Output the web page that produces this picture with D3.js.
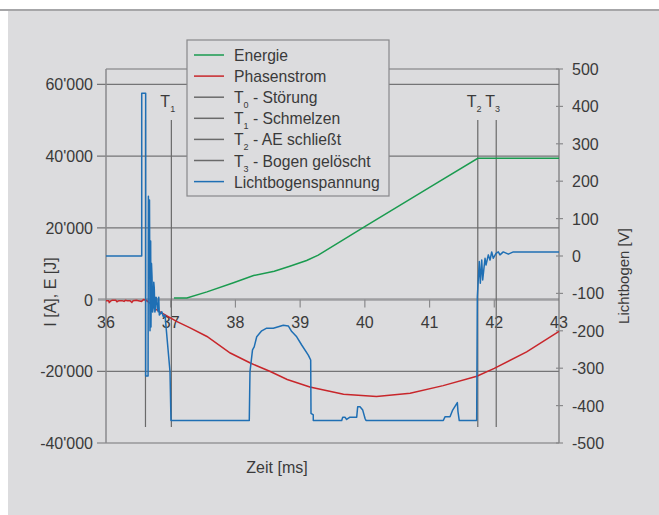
<!DOCTYPE html>
<html>
<head>
<meta charset="utf-8">
<script src="https://cdn.jsdelivr.net/npm/d3@7"></script>
<style>
  body { margin: 0; background: #fff; }
  svg { display: block; font-family: "Liberation Sans", Arial, sans-serif; }
  text { fill: #3a3a3a; }
</style>
</head>
<body>
<script>
// Zeit [ms] ticks, left / right axis ticks
let timeTicks = [36, 37, 38, 39, 40, 41, 42, 43]
let leftTicks = [-40000, -20000, 0, 20000, 40000, 60000]
let rightTicks = [-500, -400, -300, -200, -100, 0, 100, 200, 300, 400, 500]

// Energie [J] over time
let energyT = [37.05, 37.25, 37.56, 37.97, 38.28, 38.6, 38.84, 39.1, 39.28, 40.03, 41.0, 41.745, 43]
let energyV = [450, 450, 2150, 4700, 6700, 7900, 9300, 10900, 12400, 20700, 31300, 39400, 39400]

// Phasenstrom [A]
let currentT = [36.0, 36.04, 36.05, 36.08, 36.1, 36.15, 36.17, 36.2, 36.25, 36.28, 36.3, 36.33, 36.37, 36.4, 36.42, 36.47, 36.5, 36.55, 36.58, 36.62, 36.68,
  36.75, 36.86, 37.09, 37.3, 37.56, 37.92, 38.23, 38.53, 38.8, 39.15, 39.67, 40.18, 40.7, 41.21, 41.73, 42.0, 42.5, 43.0]
let currentV = [-300, -300, -800, -300, -200, -200, -600, -300, -300, -500, -200, -300, -300, -800, -300, -200, -300, -500, 0, -200, -1000,
  -2500, -3700, -6100, -7900, -10300, -14900, -17700, -20000, -22300, -24400, -26400, -27000, -26100, -24000, -21400, -19200, -14600, -8900]

// Lichtbogenspannung [V]
let arcT = [36.0, 36.552, 36.552, 36.613, 36.613, 36.65, 36.655, 36.665, 36.672, 36.68, 36.69, 36.695, 36.703, 36.711, 36.72, 36.731, 36.738,
  36.746, 36.755, 36.762, 36.772, 36.783, 36.795, 36.808, 36.815, 36.824, 36.861, 36.885, 36.912, 36.989, 37.004,
  38.214, 38.225, 38.264, 38.29, 38.329, 38.406, 38.483, 38.585, 38.663, 38.74, 38.817, 38.87, 38.947, 39.024, 39.126, 39.163,
  39.168, 39.203, 39.203, 39.642, 39.658, 39.693, 39.719, 39.77, 39.874, 39.889, 39.925, 39.967, 40.002, 40.018,
  41.212, 41.238, 41.316, 41.357, 41.429, 41.439, 41.459, 41.728, 41.738, 41.768, 41.784, 41.806, 41.821, 41.857, 41.872,
  41.908, 41.934, 41.96, 41.985, 42.027, 42.062, 42.088, 42.139, 42.217, 42.294, 43.0]
let arcV = [0, 0, 435, 435, -321, -321, 160, -60, 150, -200, 40, -190, -20, -55, -150, -136, -70,
  -86, -150, -144, -110, -113, -140, -149, -110, -158, -149, -162, -158, -309, -440,
  -440, -309, -251, -243, -216, -200, -193, -193, -189, -185, -187, -202, -216, -238, -265, -278,
  -421, -425, -440, -440, -431, -431, -437, -431, -431, -403, -403, -412, -434, -440,
  -440, -430, -430, -412, -392, -416, -440, -440, -109, -15, -73, -11, -64, -6, -24,
  3, -11, 11, -6, 7, 11, 3, 11, 5, 11, 11]

// event markers
let markerNames = ['0', '1', '2', '3']
let markerT = [36.61, 37.01, 41.745, 42.03]
let markerLabel = [false, true, true, true]

let legendItems = [
  {l: 'Energie', c: '#1a9b4f'},
  {l: 'Phasenstrom', c: '#c8262b'},
  {l: 'T', s: '0', r: ' - Störung', c: '#6a6a6a'},
  {l: 'T', s: '1', r: ' - Schmelzen', c: '#6a6a6a'},
  {l: 'T', s: '2', r: ' - AE schließt', c: '#6a6a6a'},
  {l: 'T', s: '3', r: ' - Bogen gelöscht', c: '#6a6a6a'},
  {l: 'Lichtbogenspannung', c: '#1f6fb4'}
]

let W = 659, H = 515
let pL = 106, pR = 559, pT = 69, pB = 443

let x = d3.scaleLinear().domain([36, 43]).range([pL, pR])
let yL = d3.scaleLinear().domain([-40000, 64300]).range([pB, pT])
let yR = d3.scaleLinear().domain([-500, 500]).range([pB, pT])

let fmt = function (v) {
  let s = Math.abs(v).toString().replace(/\B(?=(\d{3})+(?!\d))/g, "'")
  return (v < 0 ? '-' : '') + s
}

let svg = d3.select('body').append('svg').attr('width', W).attr('height', H)

svg.append('rect').attr('width', W).attr('height', H).attr('fill', '#fff')
svg.append('rect').attr('x', 0).attr('y', 9).attr('width', W).attr('height', 2).attr('fill', '#a6a6a8')
svg.append('rect').attr('x', 8).attr('y', 11).attr('width', W - 8).attr('height', H - 11).attr('fill', '#dcdcde')

// horizontal grid from left ticks
svg.append('g').selectAll('line').data(leftTicks.filter(function (d) { return d != 0 })).enter().append('line')
  .attr('x1', 97).attr('x2', pR)
  .attr('y1', function (d) { return yL(d) }).attr('y2', function (d) { return yL(d) })
  .attr('stroke', '#747476').attr('stroke-width', 1.2)

svg.append('line').attr('x1', 98).attr('x2', pR).attr('y1', yL(0)).attr('y2', yL(0))
  .attr('stroke', '#9e9ea0').attr('stroke-width', 2.5)

// frame
svg.append('line').attr('x1', pL).attr('x2', pR).attr('y1', pT).attr('y2', pT).attr('stroke', '#747476').attr('stroke-width', 1.2)
svg.append('line').attr('x1', pL).attr('x2', pL).attr('y1', pT).attr('y2', pB).attr('stroke', '#8a8a8c').attr('stroke-width', 1.5)
svg.append('line').attr('x1', pR).attr('x2', pR).attr('y1', pT).attr('y2', pB).attr('stroke', '#747476').attr('stroke-width', 1.2)

svg.append('g').selectAll('text').data(leftTicks).enter().append('text')
  .attr('x', 93).attr('y', function (d) { return yL(d) + 6 })
  .attr('text-anchor', 'end').attr('font-size', 16)
  .text(fmt)

svg.append('g').selectAll('line').data(rightTicks).enter().append('line')
  .attr('x1', pR - 3).attr('x2', pR + 4)
  .attr('y1', function (d) { return yR(d) }).attr('y2', function (d) { return yR(d) })
  .attr('stroke', '#8a8a8c').attr('stroke-width', 1.2)

svg.append('g').selectAll('text').data(rightTicks).enter().append('text')
  .attr('x', 572).attr('y', function (d) { return yR(d) + 6 })
  .attr('font-size', 16)
  .text(fmt)

// time ticks sit on the zero line
svg.append('g').selectAll('line').data(timeTicks.slice(1, -1)).enter().append('line')
  .attr('x1', function (d) { return x(d) }).attr('x2', function (d) { return x(d) })
  .attr('y1', yL(0)).attr('y2', yL(0) + 8)
  .attr('stroke', '#8a8a8c').attr('stroke-width', 1.2)

svg.append('g').selectAll('text').data(timeTicks).enter().append('text')
  .attr('x', function (d) { return x(d) }).attr('y', yL(0) + 28)
  .attr('text-anchor', 'middle').attr('font-size', 16)
  .text(function (d) { return d })

svg.append('text').attr('transform', 'translate(56,292) rotate(-90)')
  .attr('text-anchor', 'middle').attr('font-size', 16).text('I [A], E [J]')
svg.append('text').attr('transform', 'translate(629,276) rotate(-90)')
  .attr('text-anchor', 'middle').attr('font-size', 15).text('Lichtbogen [V]')
svg.append('text').attr('x', 277).attr('y', 473)
  .attr('text-anchor', 'middle').attr('font-size', 16).text('Zeit [ms]')

// event markers
svg.append('g').selectAll('line').data(markerT).enter().append('line')
  .attr('x1', function (d) { return x(d) }).attr('x2', function (d) { return x(d) })
  .attr('y1', 120).attr('y2', 427)
  .attr('stroke', '#6a6a6a').attr('stroke-width', 1.2)

markerT.forEach(function (t, i) {
  if (!markerLabel[i]) return
  let tx = svg.append('text').attr('x', x(t) - 11).attr('y', 107).attr('font-size', 16)
  tx.append('tspan').text('T')
  tx.append('tspan').attr('dy', 5).attr('font-size', 9).text(markerNames[i])
})

let zip = function (a, b) { return a.map(function (d, i) { return [d, b[i]] }) }

let lineL = d3.line().x(function (d) { return x(d[0]) }).y(function (d) { return yL(d[1]) })
let lineR = d3.line().x(function (d) { return x(d[0]) }).y(function (d) { return yR(d[1]) })

svg.append('path').datum(zip(currentT, currentV)).attr('d', lineL)
  .attr('fill', 'none').attr('stroke', legendItems[1].c).attr('stroke-width', 1.5)
svg.append('path').datum(zip(energyT, energyV)).attr('d', lineL)
  .attr('fill', 'none').attr('stroke', legendItems[0].c).attr('stroke-width', 1.5)
svg.append('path').datum(zip(arcT, arcV)).attr('d', lineR)
  .attr('fill', 'none').attr('stroke', legendItems[6].c).attr('stroke-width', 1.5)
  .attr('stroke-linejoin', 'round')

// legend
let lg = svg.append('g')
lg.append('rect').attr('x', 187).attr('y', 40).attr('width', 202).attr('height', 156)
  .attr('fill', '#dcdcde').attr('stroke', '#88888a').attr('stroke-width', 1.2)

let rows = lg.selectAll('g').data(legendItems).enter().append('g')
  .attr('transform', function (d, i) { return 'translate(0,' + (55 + i * 21.1) + ')' })
rows.append('line').attr('x1', 194).attr('x2', 224).attr('y1', 0).attr('y2', 0)
  .attr('stroke', function (d) { return d.c }).attr('stroke-width', 1.5)
let lt = rows.append('text').attr('x', 234).attr('y', 6).attr('font-size', 15.7)
lt.append('tspan').text(function (d) { return d.l })
lt.filter(function (d) { return d.s }).append('tspan').attr('dy', 5).attr('font-size', 9).text(function (d) { return d.s })
lt.filter(function (d) { return d.s }).append('tspan').attr('dy', -5).text(function (d) { return d.r })
</script>
</body>
</html>
